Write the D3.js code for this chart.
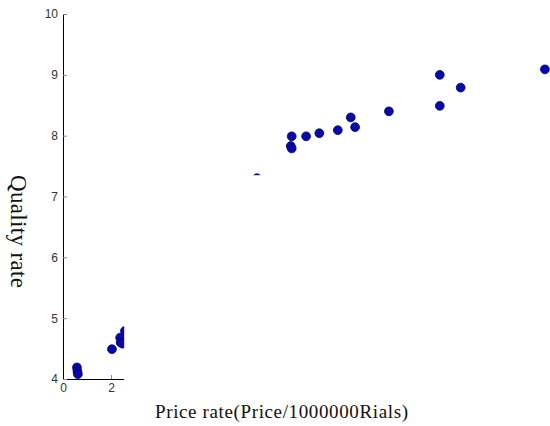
<!DOCTYPE html>
<html>
<head>
<meta charset="utf-8">
<script src="https://cdn.jsdelivr.net/npm/d3@7"></script>
<style>
  html, body { margin: 0; padding: 0; background: #fff; }
  .tick text { font-family: "Liberation Sans", Arial, sans-serif; font-size: 12px; fill: #333; }
  .tick line { stroke: #888; }
  .domain { stroke: #000; }
  .lbl { font-family: "Liberation Serif", "Times New Roman", serif; font-size: 19px; fill: #111; }
</style>
</head>
<body>
<svg width="550" height="426"></svg>
<script>
// price rate (x) vs quality rate (y)
const price = [0.58, 0.6, 0.62, 2.04, 2.38, 2.4, 2.48, 2.58, 8.08,
  9.49, 9.53, 9.53, 10.13, 10.68, 11.45, 11.99, 12.17, 13.58, 15.7, 15.7, 16.57, 20.08];
const quality = [4.19, 4.13, 4.08, 4.49, 4.68, 4.6, 4.58, 4.79, 7.3,
  7.83, 7.79, 7.99, 7.99, 8.04, 8.09, 8.3, 8.14, 8.4, 9.0, 8.49, 8.79, 9.09];
const yTicks = [4, 5, 6, 7, 8, 9, 10];
const xTicks = [0, 2, 4, 6, 8, 10, 12, 14, 16, 18, 20];

// the lower right part of the figure is blanked out in the source picture
const coverX = 2.55;
const coverY = 7.35;

const svg = d3.select('svg');

const x = d3.scaleLinear().domain([0, 20]).range([63, 543]);
const y = d3.scaleLinear().domain([4, 10]).range([379, 14]);

svg.append('g')
    .attr('transform', `translate(0, ${y(4)})`)
    .call(d3.axisBottom(x).tickValues(xTicks).tickFormat(d3.format('d'))
      .tickSizeInner(-4).tickSizeOuter(0).tickPadding(4));

svg.append('g')
    .attr('transform', `translate(${x(0)}, 0)`)
    .call(d3.axisLeft(y).tickValues(yTicks).tickFormat(d3.format('d'))
      .tickSizeInner(-4).tickSizeOuter(0).tickPadding(5));

svg.selectAll('circle.pt')
    .data(price)
    .enter()
    .append('circle')
    .attr('class', 'pt')
    .attr('cx', (d) => x(d))
    .attr('cy', (d, i) => y(quality[i]))
    .attr('r', 4.4)
    .attr('fill', '#0808aa')
    .attr('stroke', '#000070')
    .attr('stroke-width', 0.8);

svg.append('rect')
    .attr('x', x(coverX))
    .attr('y', y(coverY))
    .attr('width', 550 - x(coverX))
    .attr('height', 426 - y(coverY))
    .attr('fill', '#fff');

svg.append('text')
    .attr('class', 'lbl')
    .attr('x', 155)
    .attr('y', 418)
    .attr('textLength', 253)
    .text('Price rate(Price/1000000Rials)');

svg.append('text')
    .attr('class', 'lbl')
    .style('font-size', '23px')
    .attr('transform', 'translate(11, 175) rotate(90)')
    .attr('textLength', 113)
    .text('Quality rate');
</script>
</body>
</html>
